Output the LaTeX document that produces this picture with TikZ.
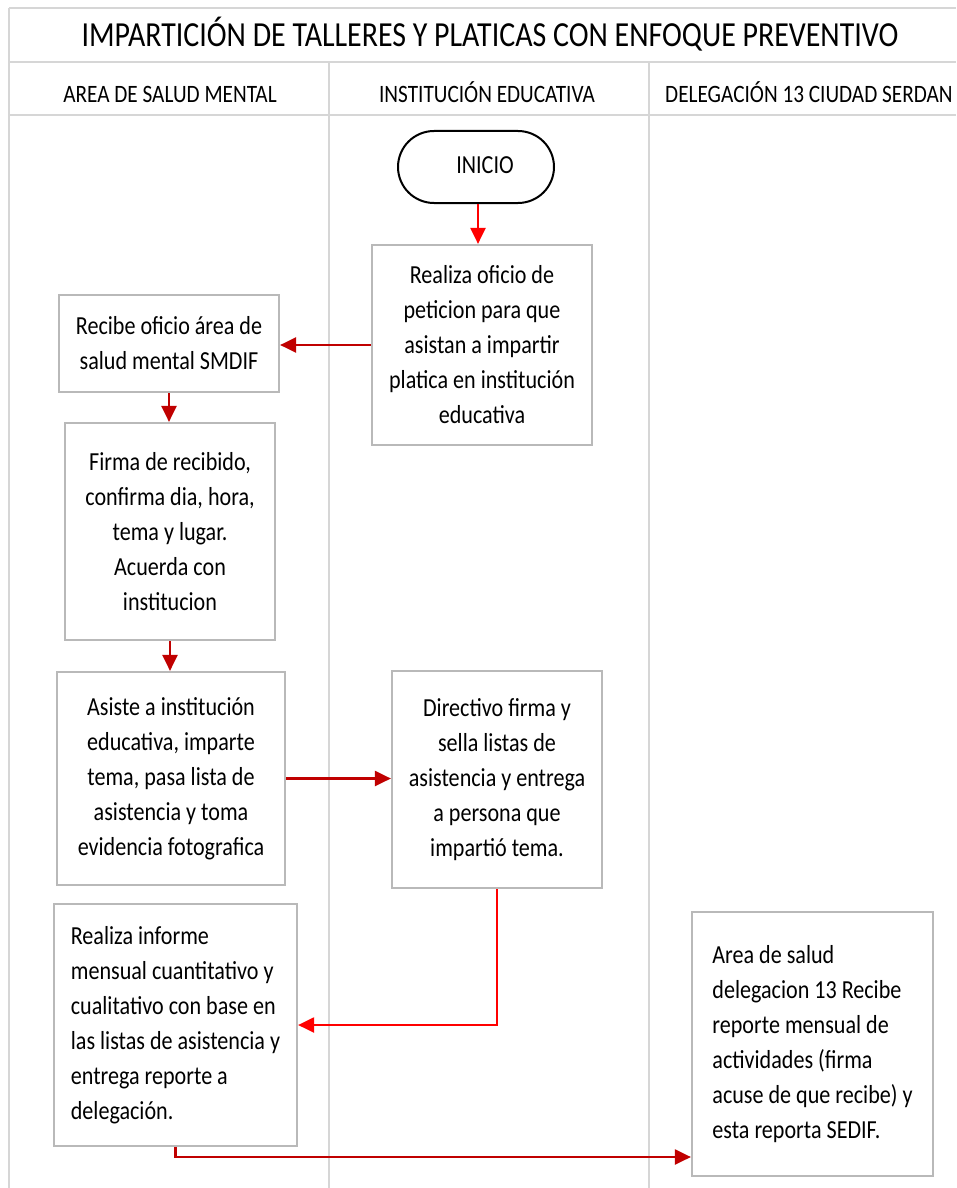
\documentclass[tikz,border=0pt]{standalone}
\usepackage{fontspec}
\setmainfont{Carlito}[FakeStretch=0.85]
\usetikzlibrary{arrows.meta,shapes.misc}
\definecolor{laneline}{RGB}{214,214,214}
\definecolor{boxline}{RGB}{185,185,185}
\definecolor{redA}{RGB}{255,0,0}
\definecolor{redB}{RGB}{192,0,0}
\tikzset{
  lane/.style={draw=laneline, line width=2.5pt},
  stepbox/.style={draw=boxline, line width=2.2pt, fill=white, align=center,
    inner sep=0pt, font=\fontsize{26}{35}\selectfont},
  leftbox/.style={stepbox, align=left},
  terminal/.style={draw=black, line width=2pt, rounded rectangle, fill=white,
    inner sep=0pt, font=\fontsize{26}{35}\selectfont},
  flowA/.style={draw=redA, line width=2.2pt, -{Triangle[length=16pt,width=15pt]}},
  flowB/.style={draw=redB, line width=2.2pt, -{Triangle[length=16pt,width=15pt]}},
  headtext/.style={font=\fontsize{25}{30}\selectfont, inner sep=0pt},
  titletext/.style={font=\fontsize{35.2}{42}\selectfont, inner sep=0pt}
}
\begin{document}
\begin{tikzpicture}[x=1pt,y=-1pt]
  \useasboundingbox (0,0) rectangle (956,1188);
  \fill[white] (0,0) rectangle (956,1188);

  % swimlane grid
  \draw[lane] (9,8) -- (956,8);
  \draw[lane] (9,62) -- (956,62);
  \draw[lane] (9,115) -- (956,115);
  \draw[lane] (9,8) -- (9,1188);
  \draw[lane] (329,62) -- (329,1188);
  \draw[lane] (649,62) -- (649,1188);

  % title and lane headers
  \node[titletext, anchor=base] (title) at (490,47)
    {IMPARTICIÓN DE TALLERES Y PLATICAS CON ENFOQUE PREVENTIVO};
  \node[headtext, anchor=base] (h1) at (170,103) {AREA DE SALUD MENTAL};
  \node[headtext, anchor=base] (h2) at (487,103) {INSTITUCIÓN EDUCATIVA};
  \node[headtext, anchor=base west] (h3) at (665,103) {DELEGACIÓN 13 CIUDAD SERDAN};

  % process steps
  \node[terminal, minimum width=156pt, minimum height=72pt] (ini) at (476,167)
    {\raisebox{4pt}{\hspace{18pt}INICIO}};
  \node[stepbox, minimum width=220pt, minimum height=200pt] (b1) at (482,345)
    {Realiza oficio de\\peticion para que\\asistan a impartir\\platica en institución\\educativa};
  \node[stepbox, minimum width=220pt, minimum height=97pt] (b2) at (169,343.5)
    {Recibe oficio área de\\salud mental SMDIF};
  \node[stepbox, minimum width=210pt, minimum height=217pt] (b3) at (170,531.5)
    {Firma de recibido,\\confirma dia, hora,\\tema y lugar.\\Acuerda con\\institucion};
  \node[stepbox, minimum width=228pt, minimum height=213pt] (b4) at (171,778.5)
    {Asiste a institución\\educativa, imparte\\tema, pasa lista de\\asistencia y toma\\evidencia fotografica};
  \node[stepbox, minimum width=210pt, minimum height=217pt] (b5) at (497,779.5)
    {Directivo firma y\\sella listas de\\asistencia y entrega\\a persona que\\impartió tema.};
  \node[leftbox, minimum width=243pt, minimum height=242pt] (b6) at (175.5,1025)
    {Realiza informe\\mensual cuantitativo y\\cualitativo con base en\\las listas de asistencia y\\entrega reporte a\\delegación.};
  \node[leftbox, minimum width=241pt, minimum height=264pt] (b7) at (812.5,1044)
    {Area de salud\\delegacion 13 Recibe\\reporte mensual de\\actividades (firma\\acuse de que recibe) y\\esta reporta SEDIF.};

  % connectors
  \coordinate (k7) at (175.5,1157);
  \draw[flowA] (ini.south -| 478,0) -- (b1.north -| 478,0);
  \draw[flowB] (b1.west) -- (b1.west -| b2.east);
  \draw[flowB] (b2.south) -- (b2.south |- b3.north);
  \draw[flowB] (b3.south) -- (b3.south |- b4.north);
  \draw[flowB] (b4.east) -- (b4.east -| b5.west);
  \draw[flowA] (b5.south) |- (b6.east);
  \draw[flowB] (b6.south) -- (k7) -- (k7 -| b7.west);
\end{tikzpicture}
\end{document}
